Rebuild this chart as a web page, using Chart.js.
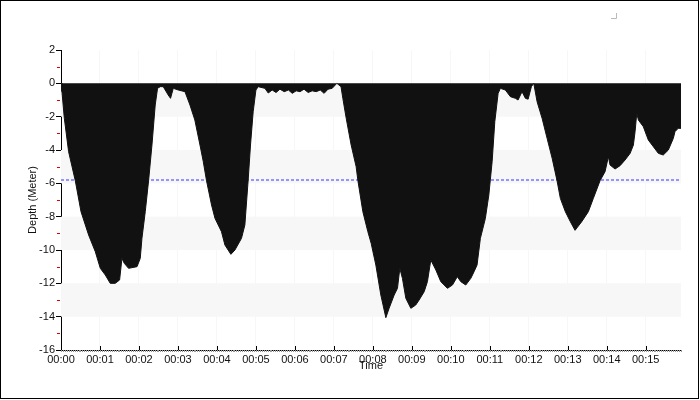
<!DOCTYPE html>
<html>
<head>
<meta charset="utf-8">
<script src="https://cdn.jsdelivr.net/npm/chart.js@4/dist/chart.umd.min.js"></script>
<style>
  body { margin: 0; background: #fff; }
  #wrap { width: 700px; height: 400px; }
</style>
</head>
<body>
<div id="wrap"><canvas id="mycanvas" width="700" height="400"></canvas></div>
<script>
// dive profile, time in seconds, depth in meters
var timeSec = [0, 1.5, 5.1, 11.7, 22, 30.8, 42.5, 52.8, 60.5, 68.2, 75.8, 83.5, 90.2, 93.8, 97.4, 104, 117, 122, 124.6, 129.7,
  134.8, 140, 145, 148.6, 152.8, 157.4, 165, 168.6, 172.8, 180.5, 190.8, 198.5, 206, 213.9, 219, 224, 231.7, 237, 247, 252.3,
  261.5, 267.7, 277.8, 283, 288, 291.7, 295.8, 300, 303.5, 313.8, 319, 325, 331, 337, 343.6, 350, 356, 362, 368, 374,
  380.5, 386.6, 392.8, 399, 405, 411, 417.4, 424.6, 431, 433.8, 439, 446.6, 454.3, 457, 464.6, 472.3, 477.4, 484.6, 492.3, 500,
  505, 512.8, 517.9, 521.5, 525.5, 530.8, 538.5, 546, 551.2, 559, 564, 569.2, 577, 584.6, 594.8, 602.5, 610, 615.4, 623, 630.8,
  635.8, 640.4, 645.5, 653.2, 658.5, 663.6, 667.7, 672.8, 676.3, 684, 691.7, 699.4, 703.5, 709.6, 714.8, 719, 724, 727.7, 732.8, 740.5,
  748.2, 756, 763.5, 768.6, 776.3, 784, 791.2, 801.5, 811.7, 819.4, 829.7, 837.4, 842.5, 845.1, 852.8, 860.5, 868.2, 876, 881, 883.6,
  886.2, 888.7, 896.3, 904, 911.7, 919.4, 927, 934.8, 942.5, 945, 950, 954.3];
var depth = [0, -0.5, -2.1, -4.1, -5.84, -7.7, -9.1, -10.1, -11.1, -11.5, -12.0, -12.0, -11.8, -10.5, -10.8, -11.1, -11.0, -10.5, -9.3, -7.7,
  -5.84, -3.7, -1.3, -0.3, -0.2, -0.2, -0.7, -0.9, -0.3, -0.4, -0.5, -1.3, -2.2, -3.7, -4.7, -5.84, -7.3, -8.1, -8.9, -9.7,
  -10.26, -10.0, -9.3, -8.5, -5.84, -3.7, -1.7, -0.4, -0.2, -0.3, -0.58, -0.4, -0.55, -0.35, -0.5, -0.4, -0.6, -0.45, -0.5, -0.35,
  -0.55, -0.45, -0.5, -0.4, -0.6, -0.35, -0.3, 0, -0.2, -0.9, -2.1, -3.7, -5.0, -5.84, -7.7, -8.9, -9.6, -10.9, -12.7, -14.06,
  -13.5, -12.7, -12.3, -11.1, -11.7, -12.9, -13.5, -13.3, -13.0, -12.5, -11.9, -10.6, -11.2, -11.9, -12.3, -12.1, -11.6, -11.9, -12.1, -11.7,
  -11.3, -10.9, -9.3, -8.1, -6.7, -4.7, -2.3, -0.6, -0.3, -0.4, -0.8, -0.9, -1.0, -0.5, -0.9, -0.95, -0.2, 0, -1.1, -2.1,
  -3.3, -4.5, -5.84, -6.9, -7.7, -8.3, -8.82, -8.3, -7.7, -6.9, -5.84, -5.3, -4.4, -4.9, -5.14, -4.94, -4.6, -4.2, -3.7, -2.9,
  -1.8, -2.2, -2.6, -3.4, -3.8, -4.2, -4.3, -4.0, -3.3, -2.9, -2.7, -2.7];
var avgDepth = -5.8;
var bandRanges = [[0, -2], [-4, -6], [-8, -10], [-12, -14]];
var minorY = [1, -1, -3, -5, -7, -9, -11, -13, -15];
var yMin = -16, yMax = 2;

var points = [];
for (var i in timeSec) {
  points.push({x: timeSec[i], y: depth[i]});
}
var tEnd = timeSec[timeSec.length - 1];

function pad(n) { return (n < 10 ? "0" : "") + n; }

var decor = {
  id: 'decor',
  beforeDatasetsDraw: function(chart) {
    var c = chart.ctx, a = chart.chartArea, ys = chart.scales.y;
    c.save();
    c.fillStyle = "#f7f7f7";
    bandRanges.forEach(function(b) {
      var y1 = ys.getPixelForValue(b[0]), y2 = ys.getPixelForValue(b[1]);
      c.fillRect(a.left, y1, a.right - a.left, y2 - y1);
    });
    c.restore();
  },
  afterDraw: function(chart) {
    var c = chart.ctx, a = chart.chartArea, xs = chart.scales.x, ys = chart.scales.y;
    c.save();
    c.lineWidth = 1;
    // red minor ticks on y
    c.strokeStyle = "#e00000";
    minorY.forEach(function(v) {
      var py = Math.round(ys.getPixelForValue(v)) + 0.5;
      c.beginPath(); c.moveTo(a.left - 4, py); c.lineTo(a.left - 1, py); c.stroke();
    });
    // x ticks
    c.strokeStyle = "#000";
    for (var s = 0; s <= tEnd; s += 60) {
      var px = Math.round(xs.getPixelForValue(s)) + 0.5;
      c.beginPath(); c.moveTo(px, a.bottom - 4); c.lineTo(px, a.bottom + 1); c.stroke();
    }
    c.strokeStyle = "#999";
    for (var m = 0; m <= tEnd; m += 3) {
      var mx = Math.round(xs.getPixelForValue(m)) + 0.5;
      c.beginPath(); c.moveTo(mx, a.bottom); c.lineTo(mx, a.bottom + 2); c.stroke();
    }
    // outer frame
    c.strokeStyle = "#000";
    c.strokeRect(0.5, 0.5, 698, 398);
    // small corner mark
    c.strokeStyle = "#bbb";
    c.beginPath(); c.moveTo(611, 18.5); c.lineTo(616.5, 18.5); c.lineTo(616.5, 13); c.stroke();
    c.restore();
  }
};

var ctx = document.getElementById("mycanvas");
var fontSpec = {family: "'Liberation Sans', Arial, sans-serif", size: 11};

var LineGraph = new Chart(ctx, {
  type: 'line',
  data: {
    datasets: [
      {
        label: "Depth",
        data: points,
        fill: 'origin',
        backgroundColor: "#111",
        borderColor: "#111",
        borderWidth: 1,
        pointRadius: 0,
        lineTension: 0,
        order: 1
      },
      {
        label: "Average",
        data: [{x: 0, y: avgDepth}, {x: tEnd, y: avgDepth}],
        fill: false,
        borderColor: "#3333ff",
        borderWidth: 1,
        borderDash: [3, 2],
        pointRadius: 0,
        order: 2
      }
    ]
  },
  options: {
    responsive: false,
    animation: false,
    layout: { padding: { left: 0, top: 50, right: 19, bottom: 0 } },
    plugins: { legend: { display: false }, tooltip: { enabled: false } },
    scales: {
      x: {
        type: 'linear',
        min: 0,
        max: tEnd,
        afterFit: function(s) { s.height = 50; },
        border: { color: "#000" },
        grid: { color: "rgba(0,0,0,0.03)", drawTicks: false },
        ticks: {
          stepSize: 60,
          includeBounds: false,
          padding: 3,
          color: "#111",
          font: fontSpec,
          maxRotation: 0,
          autoSkip: false,
          callback: function(v) { return Math.round(v) % 60 === 0 ? "00:" + pad(Math.round(v / 60)) : ""; }
        },
        title: { display: true, text: "Time", color: "#111", font: fontSpec, padding: { top: 0, bottom: 27 } }
      },
      y: {
        min: yMin,
        max: yMax,
        afterFit: function(s) { s.width = 61; },
        border: { color: "#000" },
        grid: { drawOnChartArea: false, tickLength: 5, color: "#000" },
        ticks: {
          stepSize: 2,
          padding: 1,
          autoSkip: false,
          color: "#111",
          font: fontSpec
        },
        title: { display: true, text: "Depth (Meter)", color: "#111", font: fontSpec, padding: { top: 26, bottom: 0 } }
      }
    }
  },
  plugins: [decor]
});
</script>
</body>
</html>
